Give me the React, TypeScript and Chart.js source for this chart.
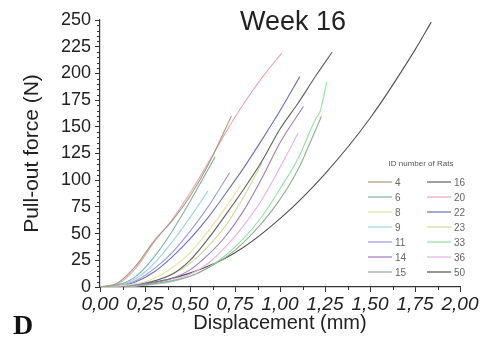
import React, { useEffect, useRef } from "react";
import { Chart, registerables } from "chart.js";
Chart.register(...registerables);

const chartTitle = "Week 16";
const xTitle = "Displacement (mm)";
const yTitle = "Pull-out force (N)";
const legendTitle = "ID number of Rats";
const panelLabel = "D";

const xTickValues = [0, 0.25, 0.5, 0.75, 1, 1.25, 1.5, 1.75, 2];
const yTickValues = [0, 25, 50, 75, 100, 125, 150, 175, 200, 225, 250];

const ratIds = ["4", "6", "8", "9", "11", "14", "15", "16", "20", "22", "23", "33", "36", "50"];
const ratColors = [
  "#a89a7a", "#7fb0a2", "#e6e2a4", "#9ad8e6", "#9a9ae0", "#a07cc4", "#93ae93",
  "#606060", "#eca4b4", "#6a6ec4", "#cbdc98", "#94e0a2", "#e8b0e8", "#505050",
];

const rat4 = [[0, 0], [0.1, 4], [0.2, 20], [0.3, 43], [0.4, 62], [0.5, 85], [0.6, 114], [0.73, 160]];
const rat6 = [[0, 0], [0.1, 2], [0.2, 10], [0.3, 28], [0.4, 52], [0.5, 80], [0.6, 110], [0.64, 122]];
const rat8 = [[0, 0], [0.2, 3], [0.3, 8], [0.4, 18], [0.5, 32], [0.6, 52], [0.7, 75], [0.78, 95]];
const rat9 = [[0, 0], [0.1, 2], [0.2, 8], [0.3, 22], [0.4, 42], [0.5, 65], [0.6, 90]];
const rat11 = [[0, 0], [0.1, 1], [0.2, 6], [0.3, 17], [0.4, 32], [0.5, 52], [0.6, 75], [0.72, 107]];
const rat14 = [[0, 0], [0.2, 2], [0.4, 8], [0.5, 16], [0.6, 30], [0.7, 48], [0.8, 72], [0.9, 102], [1.0, 135], [1.13, 169]];
const rat15 = [[0, 0], [0.3, 3], [0.5, 10], [0.6, 18], [0.7, 28], [0.8, 42], [0.9, 60], [1.0, 82], [1.1, 110], [1.2, 148], [1.23, 160]];
const rat16 = [[0, 0], [0.2, 2], [0.4, 12], [0.5, 25], [0.6, 45], [0.7, 68], [0.8, 92], [0.9, 118], [1.0, 148], [1.1, 172], [1.2, 198], [1.29, 220]];
const rat20 = [[0, 0], [0.1, 3], [0.2, 18], [0.3, 42], [0.4, 63], [0.5, 88], [0.6, 116], [0.7, 145], [0.8, 172], [0.9, 196], [1.01, 219]];
const rat22 = [[0, 0], [0.1, 1], [0.2, 5], [0.3, 14], [0.4, 28], [0.5, 45], [0.6, 65], [0.7, 88], [0.8, 112], [0.9, 138], [1.0, 165], [1.11, 197]];
const rat23 = [[0, 0], [0.2, 2], [0.4, 12], [0.5, 22], [0.6, 38], [0.7, 58], [0.8, 85], [0.9, 116]];
const rat33 = [[0, 0], [0.2, 1], [0.4, 5], [0.5, 10], [0.6, 18], [0.7, 30], [0.8, 46], [0.9, 66], [1.0, 92], [1.1, 120], [1.2, 158], [1.22, 163], [1.26, 192]];
const rat36 = [[0, 0], [0.2, 1], [0.4, 6], [0.5, 12], [0.6, 22], [0.7, 38], [0.8, 58], [0.9, 82], [1.0, 112], [1.1, 144]];
const rat50 = [[0, 0], [0.25, 3], [0.5, 13], [0.75, 32], [1.0, 64], [1.25, 106], [1.5, 158], [1.75, 222], [1.84, 248]];

const ratCurves = [rat4, rat6, rat8, rat9, rat11, rat14, rat15, rat16, rat20, rat22, rat23, rat33, rat36, rat50];

const FONT = "Arial, 'Liberation Sans', sans-serif";

const overlayPlugin = {
  id: "overlay",
  afterDraw(chart: any) {
    const { ctx, chartArea, scales } = chart;
    const xs = scales.x;
    const ys = scales.y;
    ctx.save();
    ctx.strokeStyle = "#333";
    ctx.lineWidth = 1;
    ctx.beginPath();
    for (let v = 5; v < 250; v += 5) {
      if (v % 25 === 0) continue;
      const py = Math.round(ys.getPixelForValue(v)) + 0.5;
      ctx.moveTo(chartArea.left - 3, py);
      ctx.lineTo(chartArea.left, py);
    }
    for (let v = 0.125; v < 2; v += 0.25) {
      const px = Math.round(xs.getPixelForValue(v)) + 0.5;
      ctx.moveTo(px, chartArea.bottom);
      ctx.lineTo(px, chartArea.bottom + 3);
    }
    ctx.stroke();

    ctx.fillStyle = "#222";
    ctx.font = `27px ${FONT}`;
    ctx.textAlign = "center";
    ctx.textBaseline = "middle";
    ctx.fillText(chartTitle, 293, 23);

    ctx.font = `bold 28px 'Liberation Serif', 'DejaVu Serif', serif`;
    ctx.textAlign = "left";
    ctx.textBaseline = "alphabetic";
    ctx.fillStyle = "#111";
    ctx.fillText(panelLabel, 13, 334);

    ctx.font = `8px ${FONT}`;
    ctx.textAlign = "center";
    ctx.textBaseline = "middle";
    ctx.fillStyle = "#555";
    ctx.fillText(legendTitle, 421, 164);
    ctx.font = `10px ${FONT}`;
    ctx.textAlign = "left";
    chart.data.datasets.forEach((ds: any, i: number) => {
      const col = i < 7 ? 0 : 1;
      const row = i % 7;
      const y = 182 + row * 15;
      const x0 = col === 0 ? 368 : 427;
      ctx.strokeStyle = ds.borderColor;
      ctx.lineWidth = 1.2;
      ctx.beginPath();
      ctx.moveTo(x0, y);
      ctx.lineTo(x0 + 24, y);
      ctx.stroke();
      ctx.fillStyle = "#666";
      ctx.fillText(ds.label, x0 + 27, y + 1);
    });
    ctx.restore();
  },
};

export default function App() {
  const ref = useRef<HTMLCanvasElement | null>(null);
  useEffect(() => {
    if (!ref.current) return;
    const chart = new Chart(ref.current, {
      type: "line",
      data: {
        datasets: ratCurves.map((pts, i) => ({
          label: ratIds[i],
          data: pts.map(([x, y]) => ({ x, y })),
          borderColor: ratColors[i],
          borderWidth: 1.1,
          pointRadius: 0,
          cubicInterpolationMode: "monotone",
          fill: false,
        })),
      },
      options: {
        responsive: false,
        animation: false,
        devicePixelRatio: 1,
        layout: { padding: { top: 20, right: 21, left: 0, bottom: 0 } },
        plugins: { legend: { display: false }, tooltip: { enabled: false } },
        scales: {
          x: {
            type: "linear",
            min: 0,
            max: 2,
            afterBuildTicks: (s: any) => { s.ticks = xTickValues.map((v) => ({ value: v })); },
            afterFit: (s: any) => { s.height = 64; },
            ticks: {
              autoSkip: false,
              maxRotation: 0,
              padding: 1,
              color: "#222",
              font: { family: FONT, size: 19, style: "italic" },
              callback: (v: any) => Number(v).toFixed(2).replace(".", ","),
            },
            grid: { drawOnChartArea: false, drawTicks: true, tickLength: 5, color: "#333" },
            border: { display: true, color: "#333", width: 1.2 },
            title: { display: true, text: xTitle, color: "#222", font: { family: FONT, size: 20 }, padding: { top: 0, bottom: 16 } },
          },
          y: {
            type: "linear",
            min: 0,
            max: 250,
            afterBuildTicks: (s: any) => { s.ticks = yTickValues.map((v) => ({ value: v })); },
            afterFit: (s: any) => { s.width = 100; },
            ticks: {
              autoSkip: false,
              padding: 4,
              color: "#222",
              font: { family: FONT, size: 18 },
            },
            grid: { drawOnChartArea: false, drawTicks: true, tickLength: 5, color: "#333" },
            border: { display: true, color: "#333", width: 1.2 },
            title: { display: true, text: yTitle, color: "#222", font: { family: FONT, size: 21 }, padding: { top: 20, bottom: 0 } },
          },
        },
      },
      plugins: [overlayPlugin],
    });
    return () => chart.destroy();
  }, []);
  return (
    <div style={{ position: "absolute", left: 0, top: 0, width: 481, height: 351, background: "#fff" }}>
      <canvas ref={ref} width={481} height={351} />
    </div>
  );
}
